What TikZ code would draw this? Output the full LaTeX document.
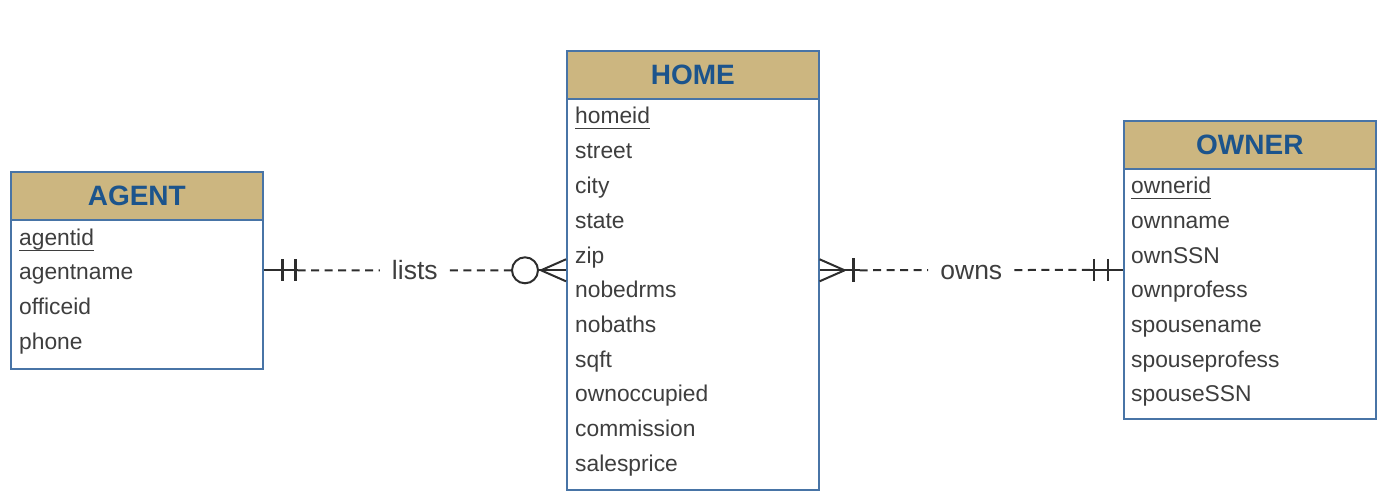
\documentclass[tikz,border=0pt]{standalone}
\usepackage{fontspec}
\setmainfont{Liberation Sans}
\usetikzlibrary{calc}
\definecolor{hdrtan}{RGB}{204,182,128}
\definecolor{hblue}{RGB}{28,84,140}
\definecolor{bord}{RGB}{72,116,166}
\definecolor{attrc}{RGB}{62,62,62}
\definecolor{connc}{RGB}{45,45,45}
\begin{document}
\begin{tikzpicture}[x=1pt,y=-1pt,
  entbox/.style={draw=bord, line width=1.6pt, fill=white, rectangle, inner sep=0pt, anchor=north west, minimum width=252pt},
  hdr/.style={draw=bord, line width=1.6pt, fill=hdrtan, rectangle, inner sep=0pt, anchor=north west, minimum width=252pt, minimum height=48pt, text=hblue, font=\fontsize{28}{32}\selectfont\bfseries},
  attr/.style={anchor=west, inner sep=0pt, text=attrc, text height=16pt, text depth=5pt, font=\fontsize{22.8}{26}\selectfont},
  keyline/.style={draw=attrc, line width=1.3pt},
  conn/.style={draw=connc, line width=2pt},
  dsh/.style={conn, dash pattern=on 8pt off 5.5pt},
  rel/.style={inner sep=12pt, text=attrc, text height=22pt, text depth=3pt, font=\fontsize{26.5}{30}\selectfont}
]
\useasboundingbox (0,0) rectangle (1396,502);

% AGENT
\node[entbox, minimum height=197pt] (agent) at (10,171) {};
\node[hdr] (agenth) at (10,171) {AGENT};
\node[attr] (a1) at (19,240) {agentid};
\node[attr] (a2) at (19,274) {agentname};
\node[attr] (a3) at (19,309) {officeid};
\node[attr] (a4) at (19,344) {phone};
\draw[keyline] ($(a1.south west)+(0,-0.5)$) -- ($(a1.south east)+(0,-0.5)$);

% HOME
\node[entbox, minimum height=439pt] (home) at (566,50) {};
\node[hdr] (homeh) at (566,50) {HOME};
\node[attr] (h1) at (575,118) {homeid};
\node[attr] (h2) at (575,153) {street};
\node[attr] (h3) at (575,188) {city};
\node[attr] (h4) at (575,223) {state};
\node[attr] (h5) at (575,258) {zip};
\node[attr] (h6) at (575,292) {nobedrms};
\node[attr] (h7) at (575,327) {nobaths};
\node[attr] (h8) at (575,362) {sqft};
\node[attr] (h9) at (575,396) {ownoccupied};
\node[attr] (h10) at (575,431) {commission};
\node[attr] (h11) at (575,466) {salesprice};
\draw[keyline] ($(h1.south west)+(0,-0.5)$) -- ($(h1.south east)+(0,-0.5)$);

% OWNER
\node[entbox, minimum height=298pt] (owner) at (1123,120) {};
\node[hdr] (ownerh) at (1123,120) {OWNER};
\node[attr] (o1) at (1131,188) {ownerid};
\node[attr] (o2) at (1131,223) {ownname};
\node[attr] (o3) at (1131,258) {ownSSN};
\node[attr] (o4) at (1131,292) {ownprofess};
\node[attr] (o5) at (1131,327) {spousename};
\node[attr] (o6) at (1131,362) {spouseprofess};
\node[attr] (o7) at (1131,396) {spouseSSN};
\draw[keyline] ($(o1.south west)+(0,-0.5)$) -- ($(o1.south east)+(0,-0.5)$);

% lists relationship
\coordinate (la) at ($(agent.east)+(34,0)$);
\node[rel] (lists) at ($(agent.east)!0.5!(home.west)$) {lists};
\node[circle, draw=connc, line width=2pt, minimum size=26pt, inner sep=0pt] (lc) at ($(home.west)+(-41,0)$) {};
\coordinate (lf) at ($(home.west)+(-25,0)$);
\draw[conn] (agent.east) -- (la);
\draw[conn, line width=2.4pt] ($(agent.east)+(19,-11)$) -- ($(agent.east)+(19,11)$);
\draw[conn, line width=2.4pt] ($(agent.east)+(32,-11)$) -- ($(agent.east)+(32,11)$);
\draw[dsh] (la) -- (lists.west);
\draw[dsh] (lists.east) -- (lc.west);
\draw[conn] (lc.east) -- (home.west);
\draw[conn] (lf) -- ($(home.west)+(0,-11)$);
\draw[conn] (lf) -- ($(home.west)+(0,11)$);

% owns relationship
\coordinate (of) at ($(home.east)+(25,0)$);
\coordinate (ob) at ($(home.east)+(40,0)$);
\coordinate (oc) at ($(owner.west)+(-33,0)$);
\node[rel] (owns) at ($(home.east)!0.5!(owner.west)$) {owns};
\draw[conn] (home.east) -- (ob);
\draw[conn] (of) -- ($(home.east)+(0,-11)$);
\draw[conn] (of) -- ($(home.east)+(0,11)$);
\draw[conn, line width=2.4pt] ($(home.east)+(34,-12)$) -- ($(home.east)+(34,12)$);
\draw[dsh] (ob) -- (owns.west);
\draw[dsh] (owns.east) -- (oc);
\draw[conn] (oc) -- (owner.west);
\draw[conn, line width=2.4pt] ($(owner.west)+(-29,-11)$) -- ($(owner.west)+(-29,11)$);
\draw[conn, line width=2.4pt] ($(owner.west)+(-15,-11)$) -- ($(owner.west)+(-15,11)$);
\end{tikzpicture}
\end{document}
